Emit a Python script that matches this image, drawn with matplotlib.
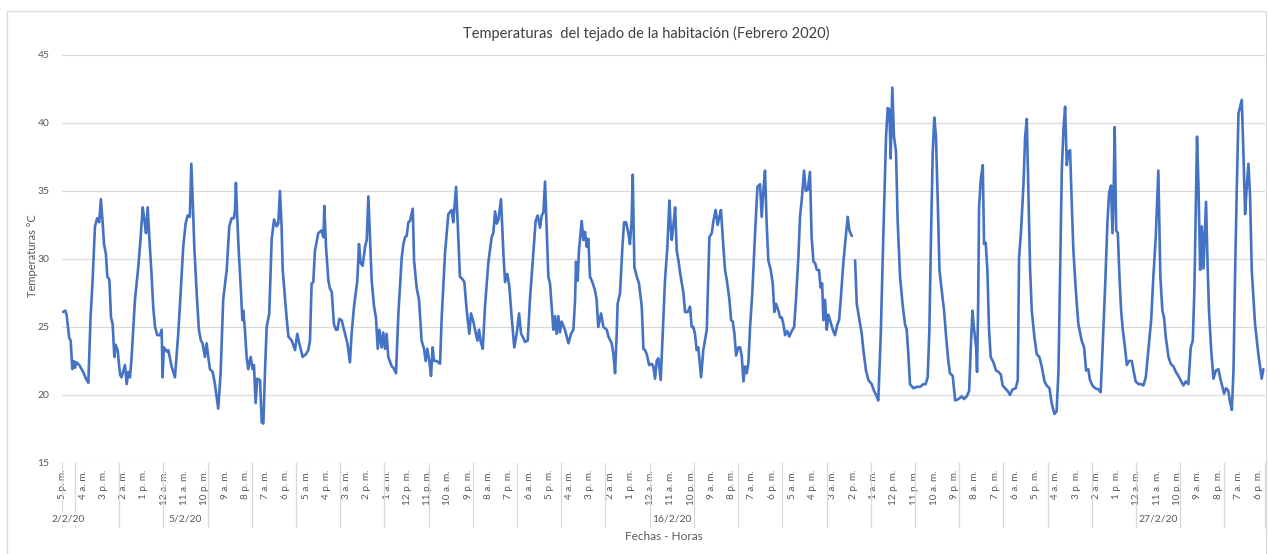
import numpy as np
import matplotlib
matplotlib.use("Agg")
import matplotlib.pyplot as plt
from matplotlib.transforms import blended_transform_factory
from matplotlib.patches import Rectangle

plt.rcParams['font.family'] = ['Lato', 'DejaVu Sans']

nan = np.nan

# ---- data: hours since 2/2/20 5 p.m., roof temperature in °C ----
hours_a = [0, 1.3, 2, 3.4, 4.2, 5.1, 6, 6.5, 7.4, 8.9,
           11, 12.5, 13.8, 15, 16.1, 17.4, 18.6, 19.7, 20.6, 21.5,
           22.3, 23.3, 24.1, 25.2, 26.1, 27, 27.9, 28.6, 29.7, 31,
           31.8, 33.7, 34.6, 35.5, 36.4, 37.3, 39.1, 40.9, 42.2, 43.3,
           44.2, 45.1, 46, 47.2, 48.1, 49, 50, 51.2, 52.7, 53.6,
           54.1, 54.8, 56.3, 57.2, 59, 60.8, 62.6, 63.9, 65.3, 66.6,
           67.7, 68.9, 69.7, 70.6, 71.3, 72.6, 73.8, 74.9, 75.8, 77.1,
           78, 78.9, 79.8, 81.3, 82.5, 84.3, 85.6, 87, 88.9, 90.3,
           91.6, 92.8, 93.4, 93.9, 94.6, 95.5, 96.5, 97.4, 97.9, 98.8,
           99.7, 100.6, 101.9, 103, 103.7, 104.6, 105.5, 107, 107.9, 108.8,
           109.7, 110.6, 112, 113.3, 114.6, 116]
temps_a = [26.1, 26.2, 25.9, 24.2, 24.0, 21.9, 22.5, 22.0, 22.4, 22.2,
           21.7, 21.2, 20.9, 25.7, 28.4, 32.4, 33.0, 32.7, 34.4, 32.8,
           31.1, 30.4, 28.7, 28.5, 25.7, 25.2, 22.8, 23.7, 23.3, 21.5,
           21.3, 22.2, 20.8, 21.7, 21.3, 22.8, 27.0, 29.4, 31.6, 33.8,
           32.9, 31.9, 33.8, 30.9, 28.9, 26.5, 25.0, 24.4, 24.4, 24.8,
           21.3, 23.5, 23.2, 23.3, 22.1, 21.3, 24.5, 27.5, 30.9, 32.6,
           33.2, 33.1, 37.0, 33.8, 30.9, 27.5, 24.8, 24.0, 23.8, 22.8,
           23.8, 22.8, 21.9, 21.7, 20.8, 19.0, 21.6, 27.0, 29.2, 32.4,
           33.0, 33.0, 33.6, 35.6, 33.1, 30.4, 28.0, 25.5, 26.2, 24.8,
           22.8, 21.9, 22.8, 21.9, 22.2, 19.4, 21.2, 21.1, 18.0, 17.9,
           21.8, 25.0, 26.0, 31.4, 32.9, 32.4]

hours_b = [116.9, 117.8, 118.7, 119.3, 120.5, 121.4, 122.4, 124.2, 126, 127.2,
           128.3, 130.1, 131.9, 133.2, 134.1, 135, 135.9, 136.8, 138.6, 139.5,
           140.4, 141.4, 141.9, 142.8, 144.1, 145, 145.9, 147.1, 148.2, 149,
           150, 151.3, 152.2, 153.1, 154.4, 155.8, 156.7, 158, 159.8, 160.7,
           161.6, 162.7, 164, 164.9, 165.8, 166.7, 167.6, 168.9, 169.9, 170.9,
           171.8, 173, 173.9, 174.8, 175.7, 176.6, 178.5, 179.4, 180.8, 182.1,
           183.9, 184.8, 185.7, 186.6, 187.5, 188.4, 189.9, 190.6, 192, 193.3,
           194.7, 196, 196.9, 197.8, 198.9, 199.8, 200.7, 201.4, 202.9, 204.7,
           205.6, 207.4, 209.2, 211, 211.9, 213.4, 214.3, 215.5, 217, 217.9,
           219.2, 220.6, 221.5, 222.8, 223.7, 225, 225.9, 226.8, 227.9, 229.1,
           230.9, 232.7, 233.6, 234.6, 235.5, 236.4, 237.8, 239.1, 240, 241.2,
           242.3, 243.6, 245]
temps_b = [32.6, 35.0, 32.4, 29.2, 27.2, 25.7, 24.3, 24.0, 23.3, 24.5,
           23.8, 22.8, 23.0, 23.3, 24.0, 28.2, 28.3, 30.6, 31.9, 32.0,
           32.1, 31.6, 33.9, 30.9, 28.4, 27.8, 27.6, 25.2, 24.8, 24.8,
           25.6, 25.5, 25.0, 24.5, 23.8, 22.4, 24.5, 26.5, 28.4, 31.1,
           29.7, 29.5, 30.9, 31.4, 34.6, 31.4, 28.4, 26.5, 25.7, 23.4,
           24.8, 23.5, 24.6, 23.4, 24.5, 22.8, 22.1, 22.0, 21.6, 26.0,
           30.1, 31.1, 31.6, 31.7, 32.7, 32.8, 33.7, 29.9, 27.9, 27.0,
           24.0, 23.4, 22.5, 23.4, 22.5, 21.4, 23.5, 22.5, 22.5, 22.3,
           25.7, 30.4, 33.3, 33.6, 32.7, 35.3, 32.6, 28.7, 28.5, 28.3,
           26.2, 24.5, 26.0, 25.4, 24.8, 24.0, 24.8, 23.9, 23.4, 26.5,
           29.7, 31.6, 31.9, 33.5, 32.6, 32.9, 34.4, 30.4, 28.3, 28.9,
           28.0, 25.7, 23.5]

hours_c = [246.3, 247.6, 248.7, 249.9, 250.8, 252.3, 253.5, 255.4, 256.6, 257.7,
           259, 259.9, 260.8, 261.7, 262.6, 263.5, 264.4, 265.3, 266.2, 267.1,
           268, 268.9, 269.8, 270.7, 272.5, 274.4, 275.8, 277.1, 278, 278.5,
           279.4, 280.1, 281.6, 282.5, 283.4, 284.3, 285.2, 286.1, 287.4, 288.8,
           289.7, 290.6, 292.1, 293.4, 295.2, 296.1, 297.9, 298.8, 299.7, 300.6,
           301.1, 302.4, 303.7, 304.6, 305.7, 306.9, 307.8, 308.7, 309.3, 310.2,
           311.5, 312.7, 314.2, 315.1, 316, 316.9, 318.2, 319.6, 320.5, 321.4,
           322.3, 323.2, 324.5, 325.4, 326.8, 328.1, 329.2, 329.9, 330.5, 331.4,
           332.3, 333.2, 334.1, 335, 336.8, 337.7, 339.1, 340.4, 341.3, 342.2,
           343.1, 344, 344.9, 346.4, 347.6, 349.5, 350.9, 352.2, 353.1, 354.3,
           355.4, 356.3, 357.2, 358.5, 359.4, 360.3, 361.8, 362.7, 363.6, 364.5,
           365.4, 366.6, 367.6, 368.5, 369.4, 370.3, 371.2, 372.1, 373, 374.2,
           375.7, 377, 378.4]
temps_c = [24.5, 26.0, 24.5, 24.2, 23.9, 24.0, 27.0, 30.6, 32.8, 33.2,
           32.3, 33.2, 33.4, 35.7, 32.3, 28.7, 28.2, 26.5, 24.8, 25.8,
           24.5, 25.8, 24.6, 25.4, 24.8, 23.8, 24.5, 24.8, 27.0, 29.8,
           28.4, 30.6, 32.8, 31.4, 32.0, 30.9, 31.5, 28.7, 28.3, 27.7,
           27.0, 25.0, 26.0, 25.0, 24.8, 24.3, 23.8, 23.0, 21.6, 24.5,
           26.7, 27.5, 30.9, 32.7, 32.7, 31.9, 31.1, 32.8, 36.2, 29.4,
           28.7, 28.2, 26.5, 23.4, 23.3, 23.0, 22.2, 22.3, 22.1, 21.2,
           22.5, 22.7, 21.1, 24.0, 28.4, 30.9, 34.3, 32.4, 31.4, 32.5,
           33.8, 30.6, 29.9, 29.0, 27.5, 26.1, 26.1, 26.5, 25.0, 25.0,
           24.5, 23.3, 23.5, 21.3, 23.3, 24.8, 31.6, 31.9, 32.8, 33.6,
           32.5, 33.1, 33.6, 30.9, 29.2, 28.5, 27.0, 25.5, 25.4, 24.5,
           22.9, 23.5, 23.5, 22.8, 21.0, 22.1, 21.6, 22.4, 25.0, 27.5,
           31.9, 35.3, 35.5]

hours_d = [379.3, 380.2, 381.1, 382, 382.9, 384.2, 385.3, 386.2, 387.1, 388.4,
           389.3, 390.2, 391.1, 392, 393.2, 394.3, 395.6, 396.9, 397.9, 399.2,
           400.1, 401, 402.3, 403.2, 404.3, 405.5, 406.4, 407.4, 408.3, 409.2,
           410.4, 411.3, 412.1, 412.8, 413.7, 414.6, 415.5, 416.4, 417.9, 419.1,
           420.4, 421.3, 422.2, 423.6, 424.9, 426, 426.9, 428.2, 429.1, 430,
           430.9, 432.1, 433.6, 434.5, 435.9, 437.2, 439, 440.3, 441.4, 442.6,
           443.9, 445.4, 446.8, 447.7, 448.6, 449.3, 450.2, 451.1, 452.2, 453.1,
           454.4, 455.9, 457.1, 458, 458.9, 459.8, 461.6, 463.5, 465.3, 467.1,
           468.3, 469.4, 470.3, 471.2, 472.1, 473, 473.9, 474.9, 475.8, 477,
           478.3, 479.4, 480.6, 481.5, 483, 484.3, 486.1, 487.9, 489.1, 490.6,
           491.9, 492.8, 493.7, 494.6, 495.7, 496.2, 496.8, 497.3, 498.2, 499.3,
           500, 500.9, 501.8, 502.7, 503.6, 505.1, 506.5, 507.8, 509.1, 510.1]
temps_d = [33.1, 35.0, 36.5, 32.6, 29.9, 29.2, 28.2, 26.1, 26.7, 26.2,
           25.7, 25.7, 25.2, 24.4, 24.7, 24.3, 24.7, 25.0, 27.0, 30.1,
           33.1, 34.3, 36.5, 35.0, 35.1, 36.4, 31.6, 29.8, 29.7, 29.2,
           29.2, 27.9, 28.2, 25.5, 27.0, 24.8, 25.9, 25.5, 24.8, 24.4,
           25.2, 25.5, 27.0, 29.7, 31.6, 33.1, 32.1, 31.7, nan, 29.9,
           26.7, 25.7, 24.5, 23.3, 21.8, 21.1, 20.8, 20.3, 20.0, 19.6,
           24.3, 32.1, 39.0, 41.1, 41.0, 37.4, 42.6, 39.0, 37.9, 32.8,
           28.7, 26.5, 25.2, 24.8, 23.0, 20.8, 20.5, 20.6, 20.6, 20.8,
           20.8, 21.3, 24.7, 31.6, 37.7, 40.4, 39.0, 34.1, 29.2, 27.7,
           26.2, 24.3, 22.5, 21.6, 21.4, 19.6, 19.7, 19.9, 19.7, 19.9,
           20.3, 23.5, 26.2, 24.8, 23.5, 21.7, 26.7, 33.8, 35.8, 36.9,
           31.1, 31.2, 29.2, 24.8, 22.8, 22.4, 21.8, 21.7, 21.5, 20.7]

hours_e = [511.4, 512.8, 514.1, 515.4, 517.2, 518.3, 519, 520.1, 521.4, 522.3,
           523.2, 524.1, 525, 525.9, 527.3, 528.6, 530, 531.3, 532.8, 534,
           535.5, 536.7, 538.2, 539.4, 540.4, 541.3, 542.2, 543.1, 544, 544.9,
           545.8, 546.7, 547.6, 548.5, 549.8, 551.2, 553, 554.3, 555.4, 556.6,
           557.5, 558.8, 560.3, 562.1, 563.3, 564.2, 565.7, 567, 567.9, 568.9,
           569.7, 570.4, 570.9, 571.7, 572.6, 573.5, 574.4, 575.3, 576.5, 577.5,
           578.7, 580.2, 581.1, 582.3, 583.8, 585.2, 586.5, 587.8, 589.2, 590.7,
           591.9, 593.2, 594.6, 595.7, 596.8, 597.7, 598.6, 600.1, 601.3, 602.8,
           604.1, 605.5, 607, 608.2, 609.5, 610.9, 612.2, 613.3, 614.2, 614.9,
           615.6, 616.4, 617.3, 618.2, 619.1, 620, 620.5, 621.4, 622.1, 623.2,
           624.5, 625.8, 627.2, 628.1, 629, 630.3, 631.4, 632.6, 633.5, 634.5,
           635.4, 636.3, 637.2, 638.1, 639, 639.9, 640.8, 641.7, 642.6, 643.5,
           644.4, 645.3, 647.1, 648.9, 650.7, 651.6]
temps_e = [20.5, 20.3, 20.0, 20.4, 20.5, 21.1, 30.1, 32.1, 35.5, 39.0,
           40.3, 34.6, 29.2, 26.2, 24.3, 23.0, 22.8, 22.1, 21.0, 20.7,
           20.5, 19.4, 18.6, 18.8, 21.8, 29.2, 36.5, 39.5, 41.2, 36.9,
           37.9, 38.0, 34.1, 30.6, 27.7, 25.2, 24.0, 23.5, 21.8, 21.9,
           21.1, 20.7, 20.5, 20.4, 20.2, 23.0, 27.9, 32.8, 34.9, 35.4,
           31.9, 35.4, 39.7, 32.1, 31.9, 28.7, 26.2, 24.8, 23.5, 22.2,
           22.5, 22.5, 21.8, 21.0, 20.8, 20.8, 20.7, 21.3, 23.3, 25.5,
           28.7, 31.6, 36.5, 28.7, 26.2, 25.7, 24.3, 22.8, 22.3, 22.1,
           21.7, 21.4, 21.0, 20.7, 21.0, 20.8, 23.5, 24.0, 27.9, 33.5,
           39.0, 35.3, 29.2, 32.4, 29.3, 32.4, 34.2, 29.2, 26.2, 23.5,
           21.2, 21.8, 21.9, 21.3, 20.8, 20.1, 20.5, 20.3, 19.5, 18.9,
           21.8, 29.2, 35.3, 40.7, 41.2, 41.7, 37.7, 33.3, 35.3, 37.0,
           34.6, 29.2, 25.2, 23.0, 21.2, 21.9]

hour_labels = ["5 p. m.", "4 a. m.", "3 p. m.", "2 a. m.", "1 p. m.", "12 a. m.",
               "11 a. m.", "10 p. m.", "9 a. m.", "8 p. m.", "7 a. m.", "6 p. m.",
               "5 a. m.", "4 p. m.", "3 a. m.", "2 p. m.", "1 a. m.", "12 p. m.",
               "11 p. m.", "10 a. m.", "9 p. m.", "8 a. m.", "7 p. m.", "6 a. m.",
               "5 p. m.", "4 a. m.", "3 p. m.", "2 a. m.", "1 p. m.", "12 a. m.",
               "11 a. m.", "10 p. m.", "9 a. m.", "8 p. m.", "7 a. m.", "6 p. m.",
               "5 a. m.", "4 p. m.", "3 a. m.", "2 p. m.", "1 a. m.", "12 p. m.",
               "11 p. m.", "10 a. m.", "9 p. m.", "8 a. m.", "7 p. m.", "6 a. m.",
               "5 p. m.", "4 a. m.", "3 p. m.", "2 a. m.", "1 p. m.", "12 a. m.",
               "11 a. m.", "10 p. m.", "9 a. m.", "8 p. m.", "7 a. m.", "6 p. m."]
label_step = 11          # one label every 11 hourly readings
date_days = [2, 5, 16, 27]
date_labels = ["2/2/20", "5/2/20", "16/2/20", "27/2/20"]
n_readings = 653         # hourly readings, first at 2/2/20 5 p.m.
first_hour_of_day = 17
y_ticks = [15, 20, 25, 30, 35, 40, 45]

title = "Temperaturas  del tejado de la habitación (Febrero 2020)"
x_title = "Fechas - Horas"
y_title = "Temperaturas °C"

# ---- figure ----
W, H = 1268, 554
fig = plt.figure(figsize=(W / 100, H / 100), dpi=100)
fig.patch.set_facecolor('white')

left_px, right_px, top_px, bottom_px = 62, 1265, 55, 463
ax = fig.add_axes([left_px / W, 1 - bottom_px / H,
                   (right_px - left_px) / W, (bottom_px - top_px) / H])

grid_c = '#D9D9D9'
text_c = '#595959'
line_c = '#4472C4'

hours = np.concatenate([hours_a, hours_b, hours_c, hours_d, hours_e])
temps = np.concatenate([temps_a, temps_b, temps_c, temps_d, temps_e])
ax.plot(hours, temps, color=line_c, lw=1.9, solid_joinstyle='round',
        solid_capstyle='round', zorder=3)

ax.set_xlim(-0.5, n_readings - 0.5)
ax.set_ylim(y_ticks[0], y_ticks[-1])
ax.set_yticks(y_ticks)
ax.yaxis.grid(True, color=grid_c, lw=0.9)
ax.set_axisbelow(True)
for s in ax.spines.values():
    s.set_visible(False)
ax.tick_params(axis='y', length=0, pad=9, labelsize=7.5, labelcolor=text_c)

tick_pos = [i * label_step for i in range(len(hour_labels))]
ax.set_xticks(tick_pos)
ax.set_xticklabels(hour_labels, rotation=90, fontsize=7.2, color=text_c)
ax.tick_params(axis='x', length=0, pad=5)

# day separators on the category axis
trans = blended_transform_factory(ax.transData, ax.transAxes)
sep_depth = -(527 - bottom_px) / (bottom_px - top_px)
midnights = [24 * (d - 2) - first_hour_of_day - 0.5 for d in range(3, 30)]
for m in [-0.5] + midnights + [n_readings - 0.5]:
    ax.plot([m, m], [0, sep_depth], transform=trans, color=grid_c, lw=0.9,
            clip_on=False, zorder=1)

# date group labels
date_y = -(519 - bottom_px) / (bottom_px - top_px)
for d, lab in zip(date_days, date_labels):
    start = max(0, 24 * (d - 2) - first_hour_of_day)
    end = min(n_readings - 1, 24 * (d - 1) - first_hour_of_day - 1)
    ax.text((start + end) / 2, date_y, lab, transform=trans, ha='center',
            va='center', fontsize=7.5, color=text_c, zorder=4,
            bbox=dict(facecolor='white', edgecolor='none', pad=1))

# axis titles
ax.text(0.5, -(537 - bottom_px) / (bottom_px - top_px), x_title,
        transform=ax.transAxes, ha='center', va='center', fontsize=8.5,
        color=text_c)
fig.text(32 / W, 1 - 256 / H, y_title, rotation=90, ha='center',
         va='center', fontsize=8, color=text_c)
fig.text(646 / W, 1 - 33 / H, title, ha='center', va='center',
         fontsize=10.5, color='#404040')

# chart area border
fig.patches.append(Rectangle((7 / W, -0.05), (1266 - 7) / W, 1.05 - 11 / H,
                             transform=fig.transFigure, fill=False,
                             edgecolor=grid_c, lw=0.9))

fig.savefig('out.png', dpi=100, facecolor='white')
